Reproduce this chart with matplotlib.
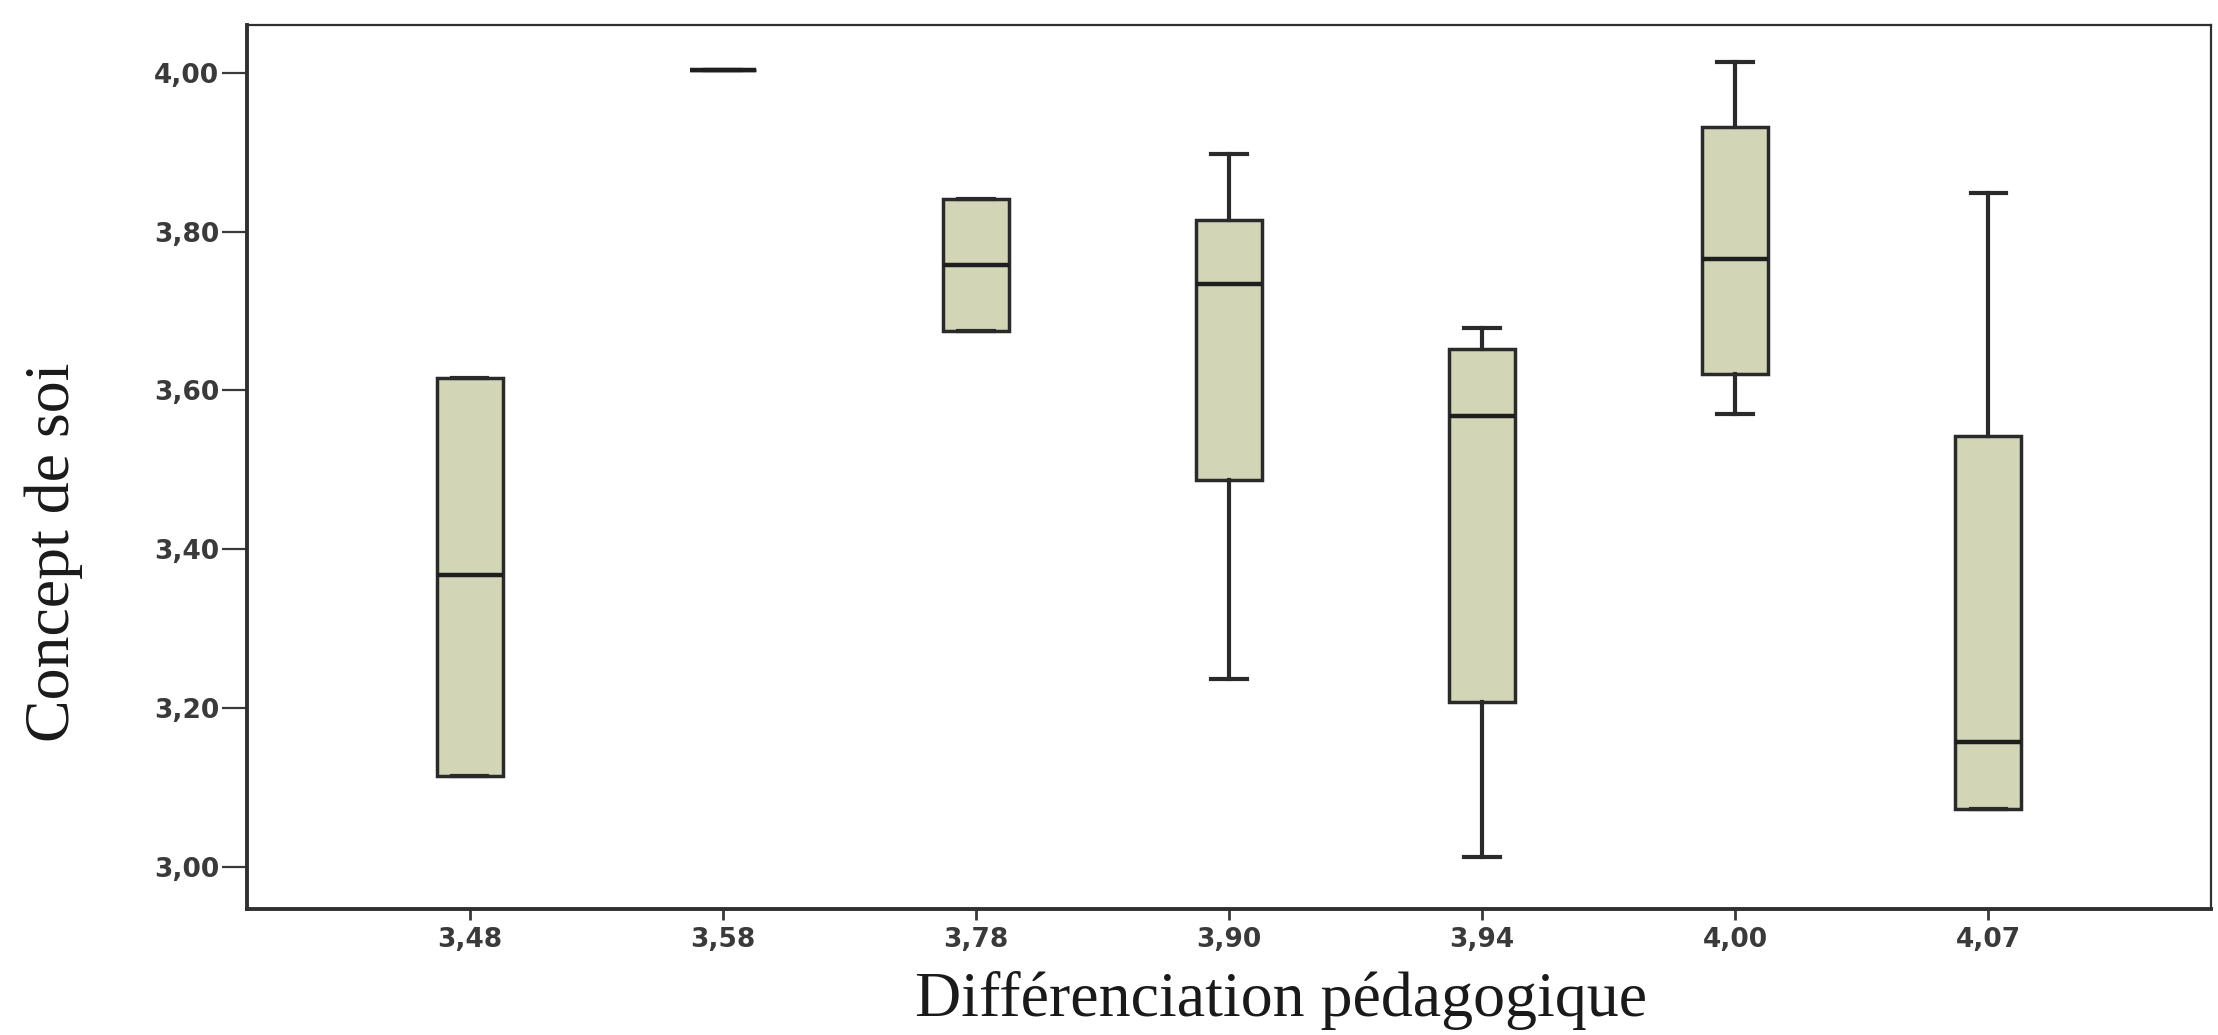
import matplotlib
matplotlib.use("Agg")
import matplotlib.pyplot as plt

# ---- data ----
categories = ["3,48", "3,58", "3,78", "3,90", "3,94", "4,00", "4,07"]
whislo = [3.115, 4.003, 3.675, 3.237, 3.013, 3.570, 3.073]
q1     = [3.115, 4.003, 3.675, 3.487, 3.207, 3.621, 3.073]
med    = [3.367, 4.003, 3.758, 3.734, 3.568, 3.766, 3.157]
q3     = [3.615, 4.003, 3.841, 3.815, 3.652, 3.932, 3.543]
whishi = [3.615, 4.003, 3.841, 3.898, 3.679, 4.014, 3.849]
yticks = [3.00, 3.20, 3.40, 3.60, 3.80, 4.00]
ytick_labels = ["3,00", "3,20", "3,40", "3,60", "3,80", "4,00"]
xlabel = "Différenciation pédagogique"
ylabel = "Concept de soi"

W, H = 2218, 1035
fig = plt.figure(figsize=(W / 100, H / 100), dpi=100)
fig.patch.set_facecolor("white")
ax = fig.add_axes([247 / W, 1 - 909 / H, (2211 - 247) / W, (909 - 25) / H])
ax.set_facecolor("white")

stats = []
for i, c in enumerate(categories):
    stats.append(dict(label=c, whislo=whislo[i], q1=q1[i], med=med[i],
                      q3=q3[i], whishi=whishi[i], fliers=[]))

positions = list(range(1, len(categories) + 1))
edge = "#2a2a2a"
ax.bxp(stats, positions=positions, widths=0.26, capwidths=0.14,
       patch_artist=True, showfliers=False,
       boxprops=dict(facecolor="#d2d5b6", edgecolor=edge, linewidth=2.5),
       medianprops=dict(color="#1e1e1e", linewidth=3.2),
       whiskerprops=dict(color=edge, linewidth=3.0),
       capprops=dict(color=edge, linewidth=3.0))

ax.set_xlim(0.12, 7.88)
ax.set_ylim(2.947, 4.06)
ax.set_yticks(yticks)
ax.set_yticklabels(ytick_labels)
ax.set_xticks(positions)
ax.set_xticklabels(categories)

for lab in ax.get_yticklabels() + ax.get_xticklabels():
    lab.set_fontfamily("DejaVu Sans")
    lab.set_fontweight("bold")
    lab.set_fontsize(19)
    lab.set_color("#3a3a3a")

ax.tick_params(axis="y", direction="out", length=18, width=1.6, pad=2, colors="#3a3a3a")
ax.tick_params(axis="x", direction="out", length=8, width=2.0, pad=5, colors="#3a3a3a")

for side in ["left", "bottom"]:
    ax.spines[side].set_linewidth(2.8)
    ax.spines[side].set_color("#303030")
for side in ["top", "right"]:
    ax.spines[side].set_linewidth(1.6)
    ax.spines[side].set_color("#303030")

fig.text(1281 / W, 1 - 1001 / H, xlabel, ha="center", va="center",
         fontfamily="Liberation Serif", fontsize=46, color="#1a1a1a")
fig.text(54 / W, 1 - 552 / H, ylabel, ha="center", va="center", rotation=90,
         fontfamily="Liberation Serif", fontsize=46, color="#1a1a1a")

fig.savefig("out.png", dpi=100, facecolor="white")
